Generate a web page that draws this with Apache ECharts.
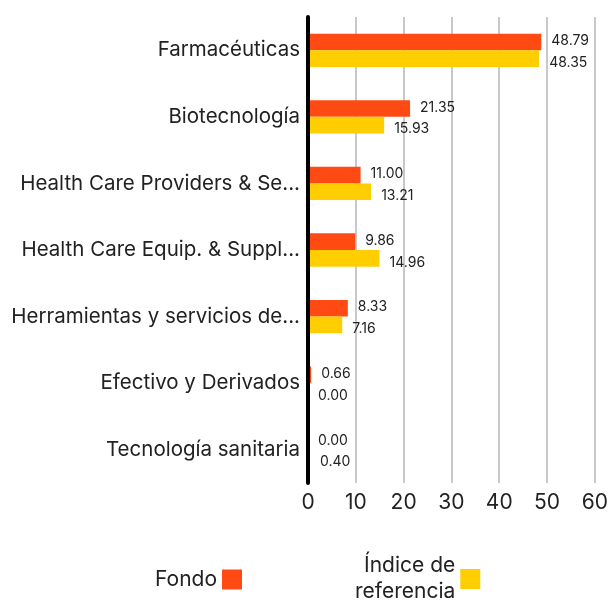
<!DOCTYPE html>
<html><head><meta charset="utf-8">
<script src="https://cdn.jsdelivr.net/npm/echarts@6/dist/echarts.min.js"></script>
<style>html,body{margin:0;padding:0;background:#fff}#c{width:611px;height:606px}</style>
</head><body><div id="c"></div>
<script>
const categories = ["Farmacéuticas","Biotecnología","Health Care Providers & Se...","Health Care Equip. & Suppl...","Herramientas y servicios de...","Efectivo y Derivados","Tecnología sanitaria"];
const fondo = [48.79,21.35,11.00,9.86,8.33,0.66,0.00];
const indice = [48.35,15.93,13.21,14.96,7.16,0.00,0.40];
const xTicks = [0,10,20,30,40,50,60];
const seriesNames = ["Fondo","Índice de\nreferencia"];
const FONT = "Inter";
const TXT = "#222";
const chart = echarts.init(document.getElementById('c'));
chart.setOption({
  animation:false,
  textStyle:{fontFamily:FONT},
  grid:{left:308,right:13,top:17,bottom:123,containLabel:false},
  xAxis:{type:'value',min:xTicks[0],max:xTicks[xTicks.length-1],interval:10,
    axisLine:{show:false},axisTick:{show:false},
    axisLabel:{fontSize:21,color:TXT,margin:9,fontFamily:FONT},
    splitLine:{show:true,lineStyle:{color:'#c8c8c8',width:2}}},
  yAxis:{type:'category',data:categories,inverse:true,z:5,
    axisLine:{show:true,lineStyle:{color:'#000',width:4}},axisTick:{show:false},
    axisLabel:{fontSize:20.5,color:TXT,margin:8,fontFamily:FONT}},
  legend:[
    {data:[seriesNames[0]],left:150,top:564,align:'right',icon:'rect',itemWidth:20,itemHeight:20,itemGap:0,
     textStyle:{fontSize:21,color:TXT,fontFamily:FONT}},
    {data:[seriesNames[1]],left:350,top:548,align:'right',icon:'rect',itemWidth:20,itemHeight:20,
     textStyle:{fontSize:21,color:TXT,fontFamily:FONT,lineHeight:26,align:'right'}}
  ],
  series:[
    {name:seriesNames[0],type:'bar',data:fondo,barGap:'0%',barCategoryGap:'50%',
     itemStyle:{color:'#FF4A14'},
     label:{show:true,position:'right',distance:10,offset:[0,-1],formatter:p=>p.value.toFixed(2),fontSize:14,color:TXT,fontFamily:FONT}},
    {name:seriesNames[1],type:'bar',data:indice,barGap:'0%',barCategoryGap:'50%',
     itemStyle:{color:'#FFCE00'},
     label:{show:true,position:'right',distance:10,offset:[0,4],formatter:p=>p.value.toFixed(2),fontSize:14,color:TXT,fontFamily:FONT}}
  ]
});
</script></body></html>
